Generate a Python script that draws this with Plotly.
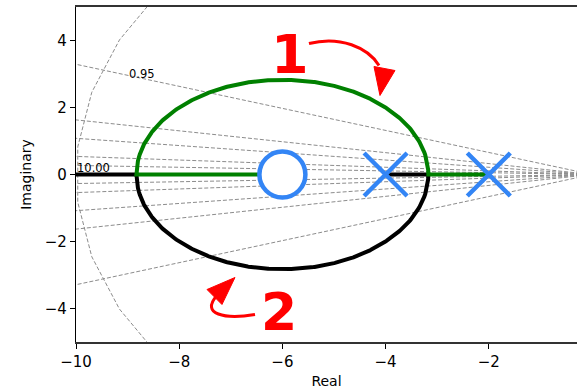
import numpy as np
import plotly.graph_objects as go

# Open-loop system  G(s) = (s + 6) / ((s + 2)(s + 4))
zeros = [-6.0]
poles = [-4.0, -2.0]
gains = np.concatenate([np.linspace(0, 0.34, 30), [6 - 4 * np.sqrt(2)],
                        np.linspace(0.35, 11.6, 300), [6 + 4 * np.sqrt(2)],
                        np.linspace(11.7, 30, 80), [60, 200, 1000, 1e5]])

# Grid: damping-ratio rays (slope |Im/Re|) and the natural-frequency arc
zeta_slopes = [0.027, 0.054, 0.108, 0.163, 0.329]
zeta_label = "0.95"
wn_radius = 10.0
wn_label = "10.00"

x_ticks = [-10, -8, -6, -4, -2]
y_ticks = [-4, -2, 0, 2, 4]


def tick_text(vals):
    return [str(v).replace("-", "\u2212") for v in vals]


num = np.poly(zeros)
den = np.poly(poles)

branch_up, branch_dn = [], []
for k in gains:
    r = np.roots(np.polyadd(den, k * num))
    if abs(r[0].imag) > 1e-9:
        hi = r[0] if r[0].imag > 0 else r[1]
        lo = np.conj(hi)
    else:
        rr = np.sort(r.real)
        hi, lo = complex(rr[1], 0.0), complex(rr[0], 0.0)
    branch_up.append(hi)
    branch_dn.append(lo)
branch_up = np.array(branch_up)
branch_dn = np.array(branch_dn)

GRAY = "#8c8c8c"
BLUE = "#3385f5"
RED = "#ff0000"

fig = go.Figure()

x_far = -12.0
for s in zeta_slopes:
    for sign in (1, -1):
        fig.add_trace(go.Scatter(x=[0, x_far], y=[0, -sign * s * x_far],
                                 mode="lines", line=dict(color=GRAY, width=1, dash="4px,2px"),
                                 hoverinfo="skip", showlegend=False))

ang = np.deg2rad(np.linspace(-90, 90, 20))
fig.add_trace(go.Scatter(x=-np.cos(ang) * wn_radius, y=np.sin(ang) * wn_radius,
                         mode="lines", line=dict(color=GRAY, width=1, dash="4px,2px"),
                         hoverinfo="skip", showlegend=False))

fig.add_trace(go.Scatter(x=branch_dn.real, y=branch_dn.imag, mode="lines",
                         line=dict(color="black", width=4), showlegend=False))
fig.add_trace(go.Scatter(x=branch_up.real, y=branch_up.imag, mode="lines",
                         line=dict(color="#008000", width=4), showlegend=False))

fig.add_trace(go.Scatter(x=zeros, y=[0] * len(zeros), mode="markers",
                         marker=dict(symbol="circle", size=46, color="white",
                                     line=dict(color=BLUE, width=4.5)),
                         showlegend=False))
fig.add_trace(go.Scatter(x=poles, y=[0] * len(poles), mode="markers",
                         marker=dict(symbol="x-thin-open", size=43, color=BLUE,
                                     line=dict(color=BLUE, width=4.5)),
                         showlegend=False))

# grid labels
fig.add_annotation(x=-8.99, y=2.75, text=zeta_label, showarrow=False,
                   xanchor="left", yanchor="bottom", borderpad=0,
                   font=dict(family="DejaVu Sans", size=11.5, color="black"))
fig.add_annotation(x=-10, y=0.0, text=wn_label, showarrow=False,
                   xanchor="left", yanchor="bottom", borderpad=0, yshift=-1,
                   font=dict(family="DejaVu Sans", size=11.5, color="black"))

# branch numbering with curved direction arrows
fig.add_annotation(x=-5.85, y=3.58, text="<b>1</b>", showarrow=False,
                   font=dict(family="DejaVu Sans", size=54, color=RED))
fig.add_annotation(x=-6.07, y=-4.09, text="<b>2</b>", showarrow=False,
                   font=dict(family="DejaVu Sans", size=52, color=RED))

fig.add_shape(type="path", xref="x", yref="y",
              path="M -5.485,3.91 C -4.884,4.149 -4.341,3.791 -4.128,3.254",
              line=dict(color=RED, width=3))
fig.add_shape(type="path", xref="x", yref="y",
              path="M -4.225,3.224 L -3.818,3.104 L -4.109,2.358 Z",
              line=dict(color=RED, width=1), fillcolor=RED)
fig.add_shape(type="path", xref="x", yref="y",
              path="M -6.531,-4.179 C -7.113,-4.328 -7.597,-4.179 -7.268,-3.612",
              line=dict(color=RED, width=3))
fig.add_shape(type="path", xref="x", yref="y",
              path="M -7.461,-3.433 L -6.919,-3.075 L -7.171,-3.881 Z",
              line=dict(color=RED, width=1), fillcolor=RED)

tick_font = dict(family="DejaVu Sans", size=15, color="black")
title_font = dict(family="DejaVu Sans", size=14, color="black")
fig.update_layout(
    width=577, height=389,
    margin=dict(l=76, r=0, t=7, b=47),
    plot_bgcolor="white", paper_bgcolor="white",
    xaxis=dict(range=[-10, -10 + 501 / 51.6], tickvals=x_ticks, ticktext=tick_text(x_ticks),
               ticks="outside", ticklen=5, tickcolor="black", tickwidth=1,
               showline=True, linecolor="#333333", linewidth=1.5, mirror=True,
               showgrid=False, zeroline=False, tickfont=tick_font,
               title=dict(text="Real", font=title_font, standoff=9)),
    yaxis=dict(range=[-5, 5], tickvals=y_ticks, ticktext=tick_text(y_ticks),
               ticks="outside", ticklen=5, tickcolor="black", tickwidth=1,
               showline=True, linecolor="black", linewidth=1.2,
               showgrid=False, zeroline=False, tickfont=tick_font,
               title=dict(text="Imaginary", font=title_font, standoff=9)),
)

fig.write_html("out.html")
